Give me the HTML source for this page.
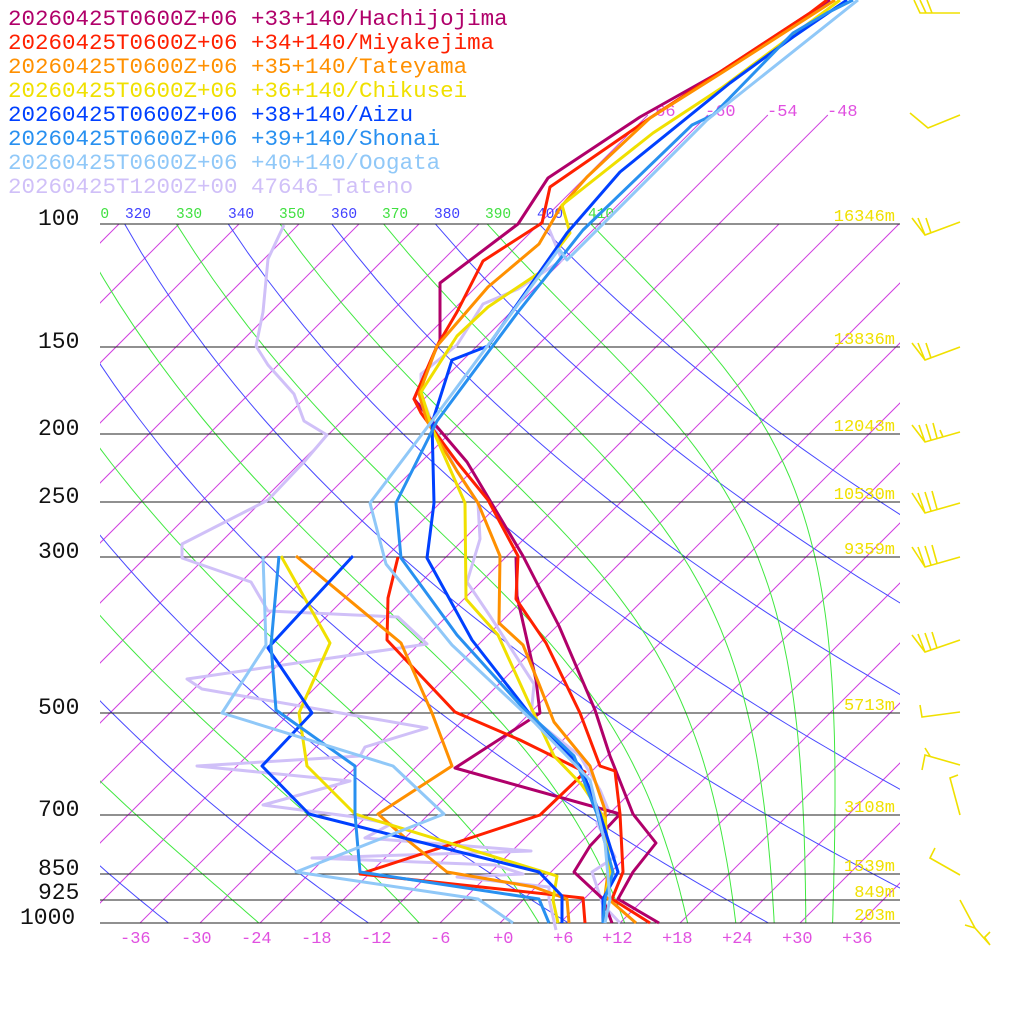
<!DOCTYPE html>
<html><head><meta charset="utf-8"><style>
html,body{margin:0;padding:0;background:#fff;}
svg{display:block;}
.leg{font-family:"Liberation Mono",monospace;font-size:22.5px;}
.pl{font-family:"Liberation Mono",monospace;font-size:23px;fill:#111;}
.tl{font-family:"Liberation Mono",monospace;font-size:17px;fill:#e050e0;}
.th{font-family:"Liberation Mono",monospace;font-size:14.5px;}
.hl{font-family:"Liberation Mono",monospace;font-size:17px;fill:#f0e000;text-anchor:end;}
</style></head><body>
<svg id="s" width="1024" height="1024" viewBox="0 0 1024 1024" xmlns="http://www.w3.org/2000/svg">
<defs><clipPath id="c"><rect x="100" y="224" width="800" height="699"/></clipPath>
<clipPath id="c2"><rect x="100" y="190" width="800" height="40"/></clipPath></defs>
<g id="grid" clip-path="url(#c)"></g>
<g id="iso2"></g>
<g stroke="#222" stroke-width="1">
<line x1="100" y1="224" x2="900" y2="224"/><line x1="100" y1="347" x2="900" y2="347"/>
<line x1="100" y1="434" x2="900" y2="434"/><line x1="100" y1="502" x2="900" y2="502"/>
<line x1="100" y1="557" x2="900" y2="557"/><line x1="100" y1="713" x2="900" y2="713"/>
<line x1="100" y1="815" x2="900" y2="815"/><line x1="100" y1="874" x2="900" y2="874"/>
<line x1="100" y1="900" x2="900" y2="900"/><line x1="100" y1="923" x2="900" y2="923"/>
</g>
<g class="pl">
<text x="38" y="225">100</text><text x="38" y="348">150</text><text x="38" y="435">200</text>
<text x="38" y="503">250</text><text x="38" y="558">300</text><text x="38" y="714">500</text>
<text x="38" y="816">700</text><text x="38" y="875">850</text><text x="38" y="899">925</text>
<text x="20" y="924">1000</text>
</g>
<g class="tl">
<text x="120" y="943">-36</text><text x="181" y="943">-30</text><text x="241" y="943">-24</text>
<text x="301" y="943">-18</text><text x="361" y="943">-12</text><text x="430" y="943">-6</text>
<text x="493" y="943">+0</text><text x="553" y="943">+6</text><text x="602" y="943">+12</text>
<text x="662" y="943">+18</text><text x="722" y="943">+24</text><text x="782" y="943">+30</text>
<text x="842" y="943">+36</text>
<text x="645" y="116">-66</text><text x="705" y="116">-60</text><text x="767" y="116">-54</text><text x="827" y="116">-48</text>
</g>
<g class="th" clip-path="url(#c2)">
<text x="83" y="218" fill="#40e040">310</text><text x="125" y="218" fill="#4040ff">320</text>
<text x="176" y="218" fill="#40e040">330</text><text x="228" y="218" fill="#4040ff">340</text>
<text x="279" y="218" fill="#40e040">350</text><text x="331" y="218" fill="#4040ff">360</text>
<text x="382" y="218" fill="#40e040">370</text><text x="434" y="218" fill="#4040ff">380</text>
<text x="485" y="218" fill="#40e040">390</text><text x="537" y="218" fill="#4040ff">400</text>
<text x="588" y="218" fill="#40e040">410</text>
</g>
<g class="hl">
<text x="895" y="221">16346m</text><text x="895" y="344">13836m</text><text x="895" y="431">12043m</text>
<text x="895" y="499">10530m</text><text x="895" y="554">9359m</text><text x="895" y="710">5713m</text>
<text x="895" y="812">3108m</text><text x="895" y="871">1539m</text><text x="895" y="897">849m</text>
<text x="895" y="920">203m</text>
</g>
<g id="prof"></g>
<g stroke="#f0e000" stroke-width="1.6" fill="none">
<path d="M960 13 L920 13 L914 0 M926 13 L920 0 M932 13 L927 0"/>
<path d="M960 115 L928 128 L910 113"/>
<path d="M960 222 L925 235 L912 218 M925 235 L918 218 M931 233 L926 218"/>
<path d="M960 347 L925 360 L912 343 M925 360 L918 343 M931 358 L926 343"/>
<path d="M960 432 L925 442 L912 425 M925 442 L919 425 M931 440 L926 424 M937 438 L933 423 M943 437 L940 430"/>
<path d="M960 503 L925 513 L912 493 M925 513 L918 493 M931 511 L925 492 M937 509 L932 491"/>
<path d="M960 557 L925 567 L912 547 M925 567 L918 547 M931 565 L925 546 M937 563 L932 545"/>
<path d="M960 640 L925 652 L912 635 M925 652 L918 634 M931 650 L925 633 M937 648 L932 632"/>
<path d="M960 712 L922 717 L920 705"/>
<path d="M960 765 L925 755 L922 770 M930 756 L925 748"/>
<path d="M960 815 L950 778 L958 775"/>
<path d="M960 875 L930 858 L935 848"/>
<path d="M960 900 L975 928 L990 945 M975 928 L965 925 M984 938 L990 932 M990 945 L985 938"/>
</g>
<g class="leg">
<text x="8" y="25" fill="#b0006a">20260425T0600Z+06 +33+140/Hachijojima</text>
<text x="8" y="49" fill="#ff2000">20260425T0600Z+06 +34+140/Miyakejima</text>
<text x="8" y="73" fill="#ff9000">20260425T0600Z+06 +35+140/Tateyama</text>
<text x="8" y="97" fill="#f0e000">20260425T0600Z+06 +36+140/Chikusei</text>
<text x="8" y="121" fill="#0040ff">20260425T0600Z+06 +38+140/Aizu</text>
<text x="8" y="145" fill="#2890f0">20260425T0600Z+06 +39+140/Shonai</text>
<text x="8" y="169" fill="#90c8f8">20260425T0600Z+06 +40+140/Oogata</text>
<text x="8" y="193" fill="#d0c0f8">20260425T1200Z+00 47646_Tateno</text>
</g>
</svg>
<script>
(function(){
var NS="http://www.w3.org/2000/svg";
function Y(p){return 923-303.5*Math.log(1000/p);}
function X(T,p){return 500+10*T+(923-Y(p));}
function path(g,d,col,w){var e=document.createElementNS(NS,"path");e.setAttribute("d",d);e.setAttribute("stroke",col);e.setAttribute("stroke-width",w);e.setAttribute("fill","none");g.appendChild(e);return e;}
var g=document.getElementById("grid");
for(var T=-120;T<=40;T+=6){path(g,"M"+X(T,1000)+" 923 L"+(X(T,1000)+900)+" 23","#d040e0",1);}
for(var th=240;th<=400;th+=20){var d="";for(var p=1000;p>=90;p-=10){var t=th*Math.pow(p/1000,0.2857)-273.15;d+=(d?"L":"M")+X(t,p).toFixed(1)+" "+Y(p).toFixed(1);}path(g,d,"#4848ff",1);}
for(var th=190;th<=410;th+=20){var T=th*Math.pow(0.1,0.2857);var p=100;var d="M"+X(T-273.15,p).toFixed(1)+" "+Y(p).toFixed(1);
 while(p<1000){var dp=2;var Tc=T-273.15;var es=6.112*Math.exp(17.67*Tc/(Tc+243.5));var rs=0.622*es/Math.max(p-es,1);
  var dT=(287*T+2.5e6*rs)/(p*(1005+2.5e6*2.5e6*rs*0.622/(287*T*T)));T+=dT*dp;p+=dp;
  if(Math.round(p)%10==0)d+="L"+X(T-273.15,p).toFixed(1)+" "+Y(p).toFixed(1);
  if(T>330)break;}
 path(g,d,"#40e840",1);}
var g2=document.getElementById("iso2");
[-66,-60,-54,-48].forEach(function(t){var x0=X(t,100);path(g2,"M"+x0+" 224 L"+(x0+109)+" 115","#d040e0",1);});
var pr=document.getElementById("prof");
function P(col,pts){path(pr,"M"+pts.join(" L"),col,3).setAttribute("stroke-linejoin","round");}
P("#d0c0f8",["549 229","562 260","518 289","483 304","457 345","421 374","421 394","432 423","457 471","478 503","480 539","467 582","490 616","534 684","531 717","580 756","600 790","608 809","597 823","615 857","592 872","603 905","620 923"]);
P("#d0c0f8",["284 225","268 259","263 312","256 346","268 365","294 394","304 421","327 435","304 462","268 500","182 544","182 558","251 582","268 611","398 617","427 644","187 679","202 689","427 728","365 747","360 756","197 766","350 781","263 805","355 817","391 824","365 838","531 851","312 858","495 865","523 874","457 877","549 887","549 899","556 930"]);
P("#b0006a",["830 0","720 72","640 117","548 178","518 224","440 283","440 340","414 399","432 421","467 462","523 556","559 626","595 710","610 756","633 814","656 843","633 872","618 899","659 923"]);
P("#b0006a",["516 557","517 596","536 680","540 713","520 726","455 768","620 814","590 846","574 872","603 899","612 923"]);
P("#ff2000",["827 0","810 13","720 72","650 118","550 187","542 223","483 261","457 312","437 346","414 399","421 413","457 462","488 500","518 556","516 599","546 643","580 713","600 766","615 771","620 814","623 872","612 899","650 923"]);
P("#ff2000",["398 557","388 598","387 640","455 712","520 740","585 772","540 815","455 843","360 874","583 898","585 923"]);
P("#ff9000",["835 0","723 72","650 118","587 177","560 208","539 244","488 287","437 346","419 394","427 421","457 471","478 503","500 556","499 623","523 645","539 684","554 722","590 766","605 810","608 872","605 896","636 923"]);
P("#ff9000",["296 556","401 643","432 713","452 766","378 814","411 843","447 872","534 887","567 899","569 923"]);
P("#f0e000",["840 0","723 87","653 133","562 205","570 233","539 273","488 307","457 336","421 392","432 428","465 503","466 599","498 635","529 703","554 756","582 785","605 819","610 872","605 899","603 923"]);
P("#f0e000",["281 556","330 643","299 713","307 766","355 814","557 876","553 900","558 923"]);
P("#0040ff",["847 0","793 37","730 83","620 172","567 233","488 346","452 360","432 423","434 503","427 558","472 640","529 713","580 766","600 814","618 872","603 899","603 923"]);
P("#0040ff",["353 556","268 648","312 713","262 766","309 814","539 872","562 896","562 923"]);
P("#2890f0",["853 0","827 13","793 33","713 115","692 125","583 230","518 312","457 394","437 421","396 503","401 558","457 635","523 708","574 756","597 814","613 872","605 899","603 923"]);
P("#2890f0",["279 556","271 645","276 710","355 766","355 814","360 872","539 899","549 923"]);
P("#90c8f8",["858 0","707 120","567 260","559 249","432 421","370 503","386 564","452 645","534 722","590 780","605 843","610 899","605 923"]);
P("#90c8f8",["263 556","266 645","222 713","393 766","444 814","296 872","478 899","513 923"]);
})();
</script>
</body></html>
